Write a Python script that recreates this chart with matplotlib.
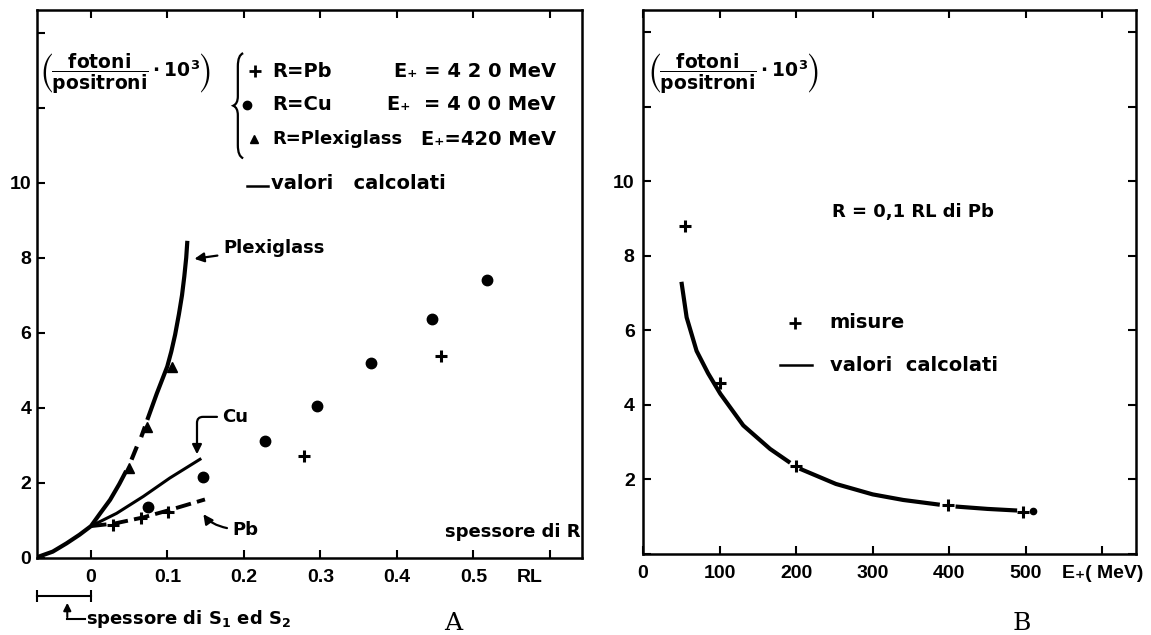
import numpy as np
import matplotlib
matplotlib.use("Agg")
import matplotlib.pyplot as plt
from matplotlib.path import Path
from matplotlib.patches import PathPatch

plt.rcParams["font.family"] = ["DejaVu Sans"]
plt.rcParams["font.weight"] = "bold"
plt.rcParams["mathtext.fontset"] = "dejavusans"
plt.rcParams["mathtext.default"] = "bf"

# Panel A - calculated curves (thickness of R in RL), nan = break in the drawn line
plexi_x = [-0.0706, -0.05, -0.032, -0.015, 0.0, 0.012, 0.025, 0.037, 0.046, np.nan,
           0.053, 0.060, np.nan, 0.0656, 0.0706, np.nan, 0.0736,
           0.086, 0.0997, 0.105, 0.110, 0.115, 0.119, 0.122, 0.1245, 0.126]
plexi_y = [0.02, 0.17, 0.39, 0.62, 0.85, 1.19, 1.55, 1.97, 2.32, np.nan,
           2.62, 2.97, np.nan, 3.22, 3.50, np.nan, 3.68,
           4.38, 5.10, 5.50, 5.95, 6.50, 7.00, 7.50, 8.00, 8.45]
cu_x = [0.0, 0.0335, 0.0684, 0.103, 0.1425]
cu_y = [0.85, 1.19, 1.64, 2.13, 2.63]
pb_x = [0.0, 0.031, 0.068, 0.103, 0.149]
pb_y = [0.85, 0.92, 1.08, 1.28, 1.56]

# Panel A - measurements
pb_meas_x = [0.029, 0.066, 0.101, 0.2786, 0.4579]
pb_meas_y = [0.88, 1.07, 1.23, 2.73, 5.39]
cu_meas_x = [0.075, 0.147, 0.2275, 0.2957, 0.3663, 0.4457, 0.5173]
cu_meas_y = [1.37, 2.15, 3.12, 4.05, 5.19, 6.37, 7.41]
plexi_meas_x = [0.0497, 0.0736, 0.1063]
plexi_meas_y = [2.39, 3.48, 5.10]

# Panel B - photons per positron vs positron energy (R = 0.1 RL Pb)
energy_calc = [50.6, 57, 70, 85, 101, 131, 166, 190, np.nan, 207, 252, 300, 340, 385,
               np.nan, 411, 450, 486]
ratio_calc = [7.25, 6.35, 5.45, 4.85, 4.30, 3.45, 2.82, 2.48, np.nan, 2.27, 1.88, 1.60, 1.45,
              1.33, np.nan, 1.27, 1.21, 1.17]
energy_meas = [55, 101, 200, 399, 497]
ratio_meas = [8.79, 4.60, 2.36, 1.32, 1.12]

xticks_A = [0, 0.1, 0.2, 0.3, 0.4, 0.5, 0.6]
xlabels_A = ["0", "0.1", "0.2", "0.3", "0.4", "0.5", ""]
yticks = [0, 2, 4, 6, 8, 10, 12, 14]
ylabels_A = ["0", "2", "4", "6", "8", "10", "", ""]
xticks_B = [0, 100, 200, 300, 400, 500, 600]
xlabels_B = ["0", "100", "200", "300", "400", "500", "E₊( MeV)"]
ylabels_B = ["", "2", "4", "6", "8", "10", "", ""]

W, H = 1151, 635
fig = plt.figure(figsize=(W / 100, H / 100), dpi=100)
axA = fig.add_axes([37 / W, 1 - 558 / H, (582 - 37) / W, (558 - 10) / H])
axB = fig.add_axes([643 / W, 1 - 554 / H, (1136 - 643) / W, (554 - 10) / H])

ylab = r"$\left(\dfrac{\mathbf{fotoni}}{\mathbf{positroni}}\cdot\mathbf{10}^{\mathbf{3}}\right)$"

for ax in (axA, axB):
    for s in ax.spines.values():
        s.set_linewidth(1.8)
    ax.tick_params(direction="in", length=6, width=1.5, top=True, labelsize=14,
                   labelfontfamily=["Liberation Sans", "DejaVu Sans"])
    ax.tick_params(axis="x", pad=8)
    ax.tick_params(axis="y", pad=4)

# ---- Panel A ----
axA.set_xlim(-0.0706, 0.642)
axA.set_ylim(0, 14.6)
axA.set_xticks(xticks_A, xlabels_A)
axA.set_yticks(yticks, ylabels_A)

axA.plot(plexi_x, plexi_y, color="black", lw=3.0, solid_capstyle="butt")
axA.plot(cu_x, cu_y, color="black", lw=2.2)
axA.plot(pb_x, pb_y, color="black", lw=2.8, linestyle=(0, (4, 1.6)))
axA.plot(pb_meas_x, pb_meas_y, "+", color="black", ms=9, mew=2.2)
axA.plot(cu_meas_x, cu_meas_y, "o", color="black", ms=7.5)
axA.plot(plexi_meas_x, plexi_meas_y, "^", color="black", ms=7.5)

axA.text(-0.0667, 12.93, ylab, fontsize=13.5, ha="left", va="center")

# legend block with brace
brace = Path([(0.199, 13.45), (0.192, 13.4), (0.192, 13.1), (0.192, 12.3),
              (0.192, 12.1), (0.186, 12.05), (0.192, 12.0), (0.192, 11.8),
              (0.192, 11.0), (0.192, 10.7), (0.199, 10.65)],
             [Path.MOVETO, Path.CURVE3, Path.CURVE3, Path.LINETO,
              Path.CURVE3, Path.CURVE3, Path.CURVE3, Path.CURVE3,
              Path.LINETO, Path.CURVE3, Path.CURVE3])
axA.add_patch(PathPatch(brace, fill=False, lw=1.6, color="black"))
axA.plot([0.214], [12.97], "+", color="black", ms=8, mew=2)
axA.plot([0.204], [12.08], "o", color="black", ms=6)
axA.plot([0.213], [11.15], "^", color="black", ms=6)
axA.plot([0.204, 0.232], [9.92, 9.92], color="black", lw=1.8)
leg_kw = dict(fontsize=14, ha="left", va="center")
axA.text(0.237, 12.97, "R=Pb", **leg_kw)
axA.text(0.237, 12.08, "R=Cu", **leg_kw)
axA.text(0.237, 11.15, "R=Plexiglass", fontsize=13, ha="left", va="center")
e_kw = dict(fontsize=14, ha="right", va="center")
axA.text(0.608, 12.97, "E₊ = 4 2 0 MeV", **e_kw)
axA.text(0.608, 12.08, "E₊  = 4 0 0 MeV", **e_kw)
axA.text(0.608, 11.15, "E₊=420 MeV", **e_kw)
axA.text(0.236, 9.99, "valori   calcolati", **leg_kw)

arrow_kw = dict(arrowstyle="-|>", color="black", lw=1.6, mutation_scale=14)
axA.annotate("Plexiglass", xy=(0.1316, 7.96), xytext=(0.1725, 8.27), fontsize=13,
             ha="left", va="center", arrowprops=arrow_kw)
axA.annotate("Cu", xy=(0.1386, 2.69), xytext=(0.172, 3.76), fontsize=13,
             ha="left", va="center",
             arrowprops=dict(connectionstyle="angle,angleA=0,angleB=90,rad=6", **arrow_kw))
axA.annotate("Pb", xy=(0.145, 1.23), xytext=(0.185, 0.75), fontsize=13,
             ha="left", va="center",
             arrowprops=dict(connectionstyle="angle3,angleA=0,angleB=-60", **arrow_kw))
axA.text(0.64, 0.69, "spessore di R", fontsize=13, ha="right", va="center")
axA.text(0.574, -0.51, "RL", fontsize=14, ha="center", va="center",
         fontfamily="Liberation Sans")

# thickness of S1 and S2 below the axis
axA.plot([-0.0706, 0.0], [-1.01, -1.01], color="black", lw=1.5, clip_on=False)
axA.plot([-0.0706, 0.0], [-1.01, -1.01], "|", color="black", ms=8, mew=1.5, clip_on=False)
axA.plot([-0.031, -0.008], [-1.63, -1.63], color="black", lw=1.5, clip_on=False)
axA.annotate("", xy=(-0.031, -1.12), xytext=(-0.031, -1.65),
             arrowprops=dict(arrowstyle="-|>", color="black", lw=1.5, mutation_scale=11),
             annotation_clip=False)
axA.text(-0.006, -1.63, "spessore di S$_1$ ed S$_2$", fontsize=13, ha="left", va="center")

# ---- Panel B ----
axB.set_xlim(0, 644)
axB.set_ylim(0, 14.6)
axB.set_xticks(xticks_B, xlabels_B)
axB.set_yticks(yticks, ylabels_B)
axB.tick_params(axis="y", right=True, pad=6)

axB.plot(energy_calc, ratio_calc, color="black", lw=3.0)
axB.plot(energy_meas, ratio_meas, "+", color="black", ms=9, mew=2.2)
axB.plot([510], [1.16], "o", color="black", ms=4.5)

axB.text(6.5, 12.9, ylab, fontsize=13.5, ha="left", va="center")
axB.text(247, 9.18, "R = 0,1 RL di Pb", fontsize=13, ha="left", va="center")
axB.plot([199], [6.2], "+", color="black", ms=8, mew=2)
axB.text(244, 6.2, "misure", fontsize=14, ha="left", va="center")
axB.plot([179, 221], [5.07, 5.07], color="black", lw=1.8)
axB.text(244, 5.07, "valori  calcolati", fontsize=14, ha="left", va="center")

fig.text(453 / W, 1 - 623 / H, "A", fontsize=18, fontfamily="DejaVu Serif",
         fontweight="normal", ha="center", va="center")
fig.text(1022 / W, 1 - 623 / H, "B", fontsize=18, fontfamily="DejaVu Serif",
         fontweight="normal", ha="center", va="center")

fig.savefig("out.png", dpi=100)
